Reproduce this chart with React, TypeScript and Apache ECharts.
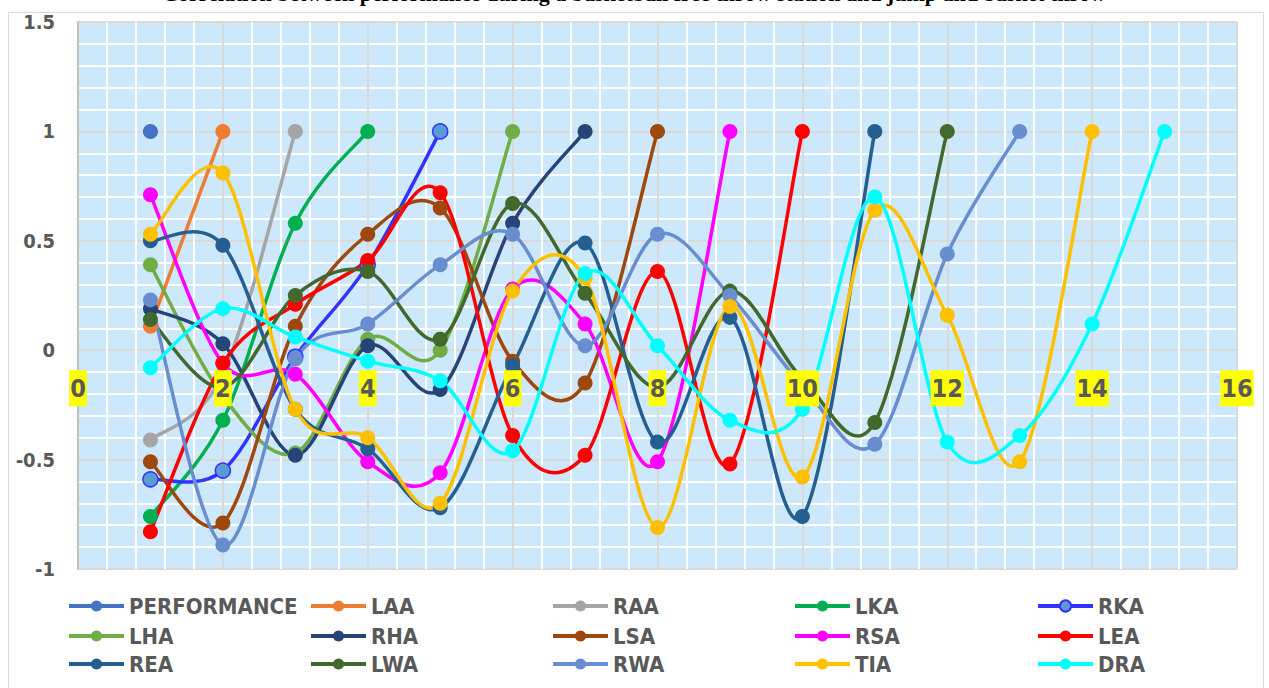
import React, { useEffect, useRef } from "react";
import * as echarts from "echarts";

// Variable names (legend order)
const names = [
  "PERFORMANCE", "LAA", "RAA", "LKA", "RKA",
  "LHA", "RHA", "LSA", "RSA", "LEA",
  "REA", "LWA", "RWA", "TIA", "DRA",
];

// Values of each series at x = 1, 2, 3, ...
const PERFORMANCE = [1];
const LAA = [0.11, 1];
const RAA = [-0.41, -0.11, 1];
const LKA = [-0.76, -0.32, 0.58, 1];
const RKA = [-0.59, -0.55, -0.03, 0.39, 1];
const LHA = [0.39, -0.21, -0.47, 0.05, 0.0, 1];
const RHA = [0.19, 0.03, -0.48, 0.02, -0.18, 0.58, 1];
const LSA = [-0.51, -0.79, 0.11, 0.53, 0.65, -0.05, -0.15, 1];
const RSA = [0.71, -0.06, -0.11, -0.51, -0.56, 0.28, 0.12, -0.51, 1];
const LEA = [-0.83, -0.06, 0.21, 0.41, 0.72, -0.39, -0.48, 0.36, -0.52, 1];
const REA = [0.5, 0.48, -0.27, -0.45, -0.72, -0.07, 0.49, -0.42, 0.15, -0.76, 1];
const LWA = [0.14, -0.17, 0.25, 0.36, 0.05, 0.67, 0.26, -0.17, 0.27, -0.13, -0.33, 1];
const RWA = [0.23, -0.89, -0.04, 0.12, 0.39, 0.53, 0.02, 0.53, 0.25, -0.16, -0.43, 0.44, 1];
const TIA = [0.53, 0.81, -0.27, -0.4, -0.7, 0.27, 0.33, -0.81, 0.2, -0.58, 0.64, 0.16, -0.51, 1];
const DRA = [-0.08, 0.19, 0.06, -0.05, -0.14, -0.46, 0.35, 0.02, -0.32, -0.27, 0.7, -0.42, -0.39, 0.12, 1];

const seriesValues = [
  PERFORMANCE, LAA, RAA, LKA, RKA, LHA, RHA, LSA, RSA, LEA, REA, LWA, RWA, TIA, DRA,
];

// x-axis tick labels (shown on the zero line)
const xTickLabels = [0, 2, 4, 6, 8, 10, 12, 14, 16];

const lineColors = [
  "#4472C4", "#ED7D31", "#A5A5A5", "#00B050", "#3333FF",
  "#70AD47", "#264478", "#9E480E", "#FF00FF", "#FF0000",
  "#255E91", "#43682B", "#698ED0", "#FFC000", "#00FFFF",
];
const markerColors = [
  "#4472C4", "#ED7D31", "#A5A5A5", "#00B050", "#5B9BD5",
  "#70AD47", "#264478", "#9E480E", "#FF00FF", "#FF0000",
  "#255E91", "#43682B", "#698ED0", "#FFC000", "#00FFFF",
];

const titleText =
  "Correlation between performance during a basketball free throw station and jump and basket throw";

// legend grid: 3 rows x 5 columns
const legendLefts = [67, 309, 551, 793, 1036];
const legendTops = [595, 625, 653];

const FONT = "'Liberation Sans Narrow', 'DejaVu Sans Condensed', Roboto, sans-serif";

export default function App() {
  const ref = useRef<HTMLDivElement>(null);

  useEffect(() => {
    if (!ref.current) return;
    const chart = echarts.init(ref.current, undefined, { renderer: "svg" });

    const series: any[] = [];
    names.forEach((name, i) => {
      const vals = seriesValues[i];
      // smooth curve (Catmull-Rom style bezier segments, like Excel's smoothed line)
      series.push({
        name: name + "_curve",
        type: "custom",
        coordinateSystem: "cartesian2d",
        silent: true,
        data: vals.slice(0, -1).map((v, k) => [k + 1, v]),
        encode: { x: 0, y: 1 },
        renderItem: (params: any, api: any) => {
          const k = params.dataIndex;
          const n = vals.length;
          const P = (j: number) => {
            const jj = Math.max(0, Math.min(n - 1, j));
            return api.coord([jj + 1, vals[jj]]);
          };
          const p0 = P(k - 1);
          const p1 = P(k);
          const p2 = P(k + 1);
          const p3 = P(k + 2);
          return {
            type: "bezierCurve",
            shape: {
              x1: p1[0],
              y1: p1[1],
              x2: p2[0],
              y2: p2[1],
              cpx1: p1[0] + (p2[0] - p0[0]) / 6,
              cpy1: p1[1] + (p2[1] - p0[1]) / 6,
              cpx2: p2[0] - (p3[0] - p1[0]) / 6,
              cpy2: p2[1] - (p3[1] - p1[1]) / 6,
            },
            style: {
              stroke: lineColors[i],
              lineWidth: 3.5,
              fill: "none",
              lineCap: "round",
            },
          };
        },
      });
      // markers
      series.push({
        name,
        type: "line",
        symbol: "circle",
        symbolSize: 15,
        data: vals.map((v, k) => [k + 1, v]),
        lineStyle: { color: lineColors[i], width: 3.5, opacity: 0 },
        itemStyle: {
          color: markerColors[i],
          borderColor: lineColors[i],
          borderWidth: i === 4 ? 1.5 : 0,
        },
        emphasis: { disabled: true },
      });
    });

    // x tick labels on the zero line, drawn above the curves
    series.push({
      name: "xLabels",
      type: "custom",
      coordinateSystem: "cartesian2d",
      silent: true,
      z: 20,
      data: xTickLabels.map((v) => [v, 0]),
      encode: { x: 0, y: 1 },
      renderItem: (params: any, api: any) => {
        const v = xTickLabels[params.dataIndex];
        const pt = api.coord([v, 0]);
        return {
          type: "text",
          x: pt[0],
          y: pt[1] + 20,
          style: {
            text: String(v),
            fontFamily: FONT,
            fontWeight: "bold",
            fontSize: 25,
            fill: "#595959",
            backgroundColor: "#FFFF00",
            padding: [6, 1, 5, 1],
            align: "center",
            verticalAlign: "top",
          },
        };
      },
    });

    const legends = names.map((name, i) => ({
      data: [name],
      orient: "horizontal",
      left: legendLefts[i % 5],
      top: legendTops[Math.floor(i / 5)],
      itemWidth: 55,
      itemHeight: 14,
      padding: 0,
      selectedMode: false,
      lineStyle: { opacity: 1, width: 4 },
      textStyle: {
        fontFamily: FONT,
        fontWeight: "bold",
        fontSize: 22,
        lineHeight: 22,
        color: "#595959",
      },
    }));

    chart.setOption({
      animation: false,
      backgroundColor: "#FFFFFF",
      grid: {
        left: 78,
        top: 22,
        width: 1159,
        height: 547,
        show: true,
        backgroundColor: "#CCE8FA",
        borderColor: "#D9D9D9",
        borderWidth: 1,
      },
      graphic: [
        {
          type: "rect",
          shape: { x: 8.5, y: 12.5, width: 1255, height: 700 },
          style: { fill: "none", stroke: "#D9D9D9", lineWidth: 1 },
          silent: true,
          z: -10,
        },
        {
          type: "text",
          x: 634,
          y: 4,
          style: {
            text: titleText,
            fontFamily: "'Liberation Serif', serif",
            fontWeight: "bold",
            fontSize: 22,
            fill: "#000000",
            align: "center",
            verticalAlign: "bottom",
          },
          silent: true,
        },
      ],
      legend: legends,
      xAxis: {
        type: "value",
        min: 0,
        max: 16,
        interval: 2,
        axisLine: { show: false, onZero: false },
        axisTick: { show: false },
        axisLabel: { show: false },
        splitLine: { show: true, lineStyle: { color: "#D9D9D9", width: 2 } },
        minorTick: { show: false, splitNumber: 5 },
        minorSplitLine: { show: true, lineStyle: { color: "#FFFFFF", width: 2 } },
      },
      yAxis: {
        type: "value",
        min: -1,
        max: 1.5,
        interval: 0.5,
        axisLine: { show: true, onZero: false, lineStyle: { color: "#BFBFBF", width: 2 } },
        axisTick: { show: false },
        axisLabel: {
          fontFamily: FONT,
          fontWeight: "bold",
          fontSize: 20,
          color: "#595959",
          margin: 23,
        },
        splitLine: { show: true, lineStyle: { color: "#D9D9D9", width: 2 } },
        minorTick: { show: false, splitNumber: 5 },
        minorSplitLine: { show: true, lineStyle: { color: "#FFFFFF", width: 2 } },
      },
      series,
    });

    return () => chart.dispose();
  }, []);

  return (
    <div
      ref={ref}
      style={{ position: "absolute", left: 0, top: 0, width: 1269, height: 688 }}
    />
  );
}
